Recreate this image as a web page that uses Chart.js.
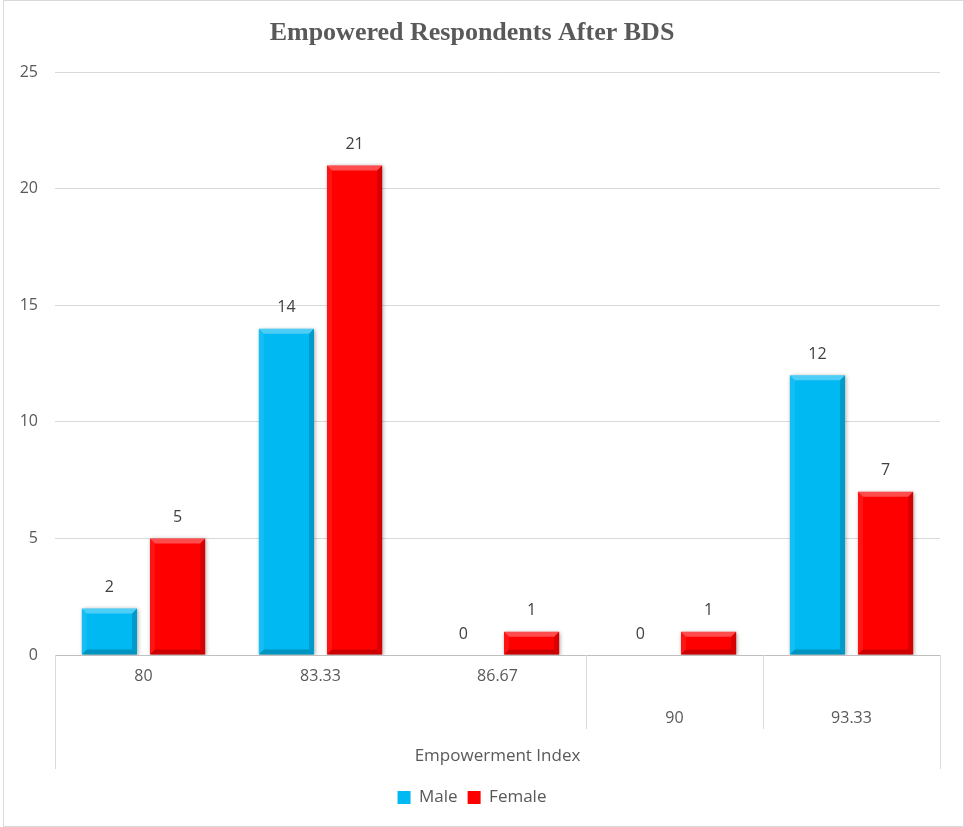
<!DOCTYPE html>
<html>
<head>
<meta charset="utf-8">
<title>Empowered Respondents After BDS</title>
<script src="https://cdn.jsdelivr.net/npm/chart.js@4.4.0/dist/chart.umd.min.js"></script>
<style>
  html, body { margin: 0; padding: 0; background: #fff; }
  #wrap { position: absolute; left: 3px; top: 0; width: 959px; height: 825px; border: 1px solid #d9d9d9; }
  #chart { display: block; }
</style>
</head>
<body>
<div id="wrap"><canvas id="chart" width="959" height="825"></canvas></div>
<script>
// ===== DATA =====
const categories = ["80", "83.33", "86.67", "90", "93.33"];
// 90 and 93.33 sit one row lower on the axis, like in the source chart
const tickRows = [["80"], ["83.33"], ["86.67"], ["", "90"], ["", "93.33"]];
const maleValues = [2, 14, 0, 0, 12];
const femaleValues = [5, 21, 1, 1, 7];
const yTicks = [0, 5, 10, 15, 20, 25];
const groupLabel = "Empowerment Index";

const textGrey = "#595959";

// ===== PLUGINS =====
// bevel + shade on each bar, drawn over the library's own bar rectangles
const bevelBars = {
  id: "bevelBars",
  beforeDatasetsDraw(chart) {
    const ctx = chart.ctx;
    ctx.save();
    ctx.shadowColor = "rgba(0,0,0,0.35)";
    ctx.shadowBlur = 4;
    ctx.shadowOffsetX = 1;
    ctx.shadowOffsetY = 1;
  },
  afterDatasetsDraw(chart) {
    const ctx = chart.ctx;
    ctx.restore();
    ctx.save();
    const b = 5;
    chart.data.datasets.forEach((ds, i) => {
      chart.getDatasetMeta(i).data.forEach((bar) => {
        const h = bar.base - bar.y;
        if (h < 2 * b) return;
        const l = bar.x - bar.width / 2, r = bar.x + bar.width / 2;
        const t = bar.y, btm = bar.base;
        const poly = (pts, col) => {
          ctx.beginPath();
          ctx.moveTo(pts[0][0], pts[0][1]);
          pts.slice(1).forEach(p => ctx.lineTo(p[0], p[1]));
          ctx.closePath();
          ctx.fillStyle = col;
          ctx.fill();
        };
        poly([[l, t], [r, t], [r - b, t + b], [l + b, t + b]], "rgba(255,255,255,0.3)");
        poly([[l, t], [l + b, t + b], [l + b, btm - b], [l, btm]], "rgba(255,255,255,0.08)");
        poly([[r, t], [r, btm], [r - b, btm - b], [r - b, t + b]], "rgba(0,0,0,0.16)");
        poly([[l, btm], [l + b, btm - b], [r - b, btm - b], [r, btm]], "rgba(0,0,0,0.2)");
      });
    });
    ctx.restore();
  }
};

// value labels above the bars
const valueLabels = {
  id: "valueLabels",
  afterDatasetsDraw(chart) {
    const ctx = chart.ctx;
    ctx.save();
    ctx.font = '16px "Open Sans"';
    ctx.fillStyle = "#404040";
    ctx.textAlign = "center";
    ctx.textBaseline = "middle";
    chart.data.datasets.forEach((ds, i) => {
      chart.getDatasetMeta(i).data.forEach((bar, j) => {
        ctx.fillText(ds.data[j], bar.x, bar.y - 21);
      });
    });
    ctx.restore();
  }
};

// multi-level axis frame: outer lines, dividers, group label
const axisFrame = {
  id: "axisFrame",
  afterDraw(chart) {
    const ctx = chart.ctx;
    const x = chart.scales.x;
    const area = chart.chartArea;
    const half = (x.getPixelForValue(1) - x.getPixelForValue(0)) / 2;
    const base = area.bottom;
    ctx.save();
    ctx.strokeStyle = "#d9d9d9";
    ctx.lineWidth = 1;
    const vline = (px, len) => {
      const xx = Math.round(px) + 0.5;
      ctx.beginPath();
      ctx.moveTo(xx, base);
      ctx.lineTo(xx, base + len);
      ctx.stroke();
    };
    vline(area.left, 114);
    vline(area.right, 114);
    vline(x.getPixelForValue(3) - half, 74);
    vline(x.getPixelForValue(4) - half, 74);
    ctx.font = '17px "Open Sans"';
    ctx.fillStyle = textGrey;
    ctx.textAlign = "center";
    ctx.textBaseline = "middle";
    ctx.fillText(groupLabel, (area.left + area.right) / 2, base + 101);
    ctx.restore();
  }
};

// ===== CHART =====
const chart = new Chart(document.getElementById("chart"), {
  type: "bar",
  data: {
    labels: tickRows,
    datasets: [
      {
        label: "Male",
        data: maleValues,
        backgroundColor: "#00b9f2",
        categoryPercentage: 0.77,
        barPercentage: 0.81
      },
      {
        label: "Female",
        data: femaleValues,
        backgroundColor: "#ff0000",
        categoryPercentage: 0.77,
        barPercentage: 0.81
      }
    ]
  },
  plugins: [bevelBars, valueLabels, axisFrame],
  options: {
    responsive: false,
    animation: false,
    layout: { padding: { left: 0, right: 23, top: 0, bottom: 10 } },
    plugins: {
      title: {
        display: true,
        text: "Empowered Respondents After BDS",
        color: textGrey,
        font: { family: '"Liberation Serif", "Times New Roman", serif', size: 26, weight: "bold" },
        padding: { top: 17, bottom: 23 }
      },
      legend: {
        position: "bottom",
        labels: {
          color: textGrey,
          font: { family: '"Open Sans"', size: 17 },
          boxWidth: 13,
          boxHeight: 13,
          padding: 10
        }
      },
      tooltip: { enabled: false }
    },
    scales: {
      x: {
        grid: { display: true, drawOnChartArea: false, drawTicks: false },
        border: { display: true, color: "#bfbfbf" },
        ticks: {
          color: textGrey,
          font: { family: '"Open Sans"', size: 16, lineHeight: 2.625 },
          padding: 0,
          maxRotation: 0,
          autoSkip: false
        },
        afterFit(scale) { scale.height = 124; }
      },
      y: {
        min: 0,
        max: 25,
        afterBuildTicks(scale) { scale.ticks = yTicks.map(v => ({ value: v })); },
        grid: { color: "#d9d9d9", drawTicks: false },
        border: { display: false },
        ticks: {
          color: textGrey,
          font: { family: '"Open Sans"', size: 16 },
          padding: 17
        },
        afterFit(scale) { scale.width = 51; }
      }
    }
  }
});
</script>
</body>
</html>
